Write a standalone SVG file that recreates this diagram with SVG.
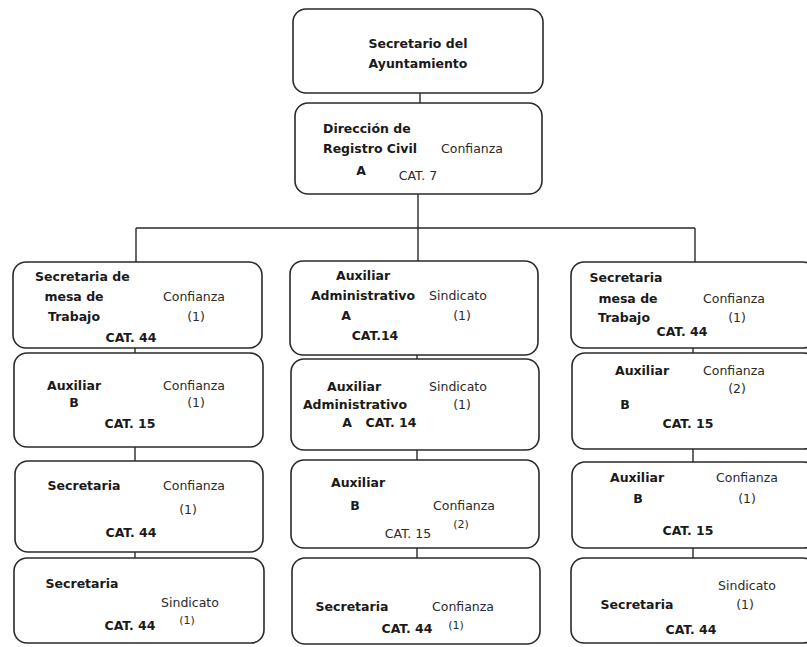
<svg xmlns="http://www.w3.org/2000/svg" width="807" height="647" viewBox="0 0 807 647">
<style>
.box{fill:#fff;stroke:#2a2a2a;stroke-width:1.6}
.ln{fill:none;stroke:#2a2a2a;stroke-width:1.4}
text{font-family:"DejaVu Sans","Liberation Sans",sans-serif;font-size:12.5px;fill:#2a2a2a;text-anchor:middle}
.b{font-weight:bold;fill:#1a1a1a}
.s{font-size:11px}
.l{text-anchor:start}
</style>
<rect width="807" height="647" fill="#fff"/>
<g id="connectors">
<path class="ln" d="M420 93V103M418 194V228M136 228H695M136 228V262M418 228V261M695 228V262"/>
<path class="ln" d="M135 348V353M135 447V461M135 552V558"/>
<path class="ln" d="M417 355V359M417 450V460M417 548V558"/>
<path class="ln" d="M693 348V353M693 449V462M693 548V558"/>
</g>
<g id="n_secretario">
<rect class="box" x="293" y="9" width="250" height="84" rx="13"/>
<text class="b" x="418" y="48">Secretario del</text>
<text class="b" x="418" y="68">Ayuntamiento</text>
</g>
<g id="n_direccion">
<rect class="box" x="295" y="103" width="247" height="91" rx="13"/>
<text class="b l" x="323" y="133">Dirección de</text>
<text class="b l" x="323" y="153">Registro Civil</text>
<text x="472" y="153">Confianza</text>
<text class="b" x="361" y="175">A</text>
<text x="418" y="180">CAT. 7</text>
</g>
<g id="n_L1">
<rect class="box" x="13" y="262" width="249" height="86" rx="13"/>
<text class="b l" x="35" y="281">Secretaria de</text>
<text class="b" x="74" y="301">mesa de</text>
<text class="b" x="74" y="321">Trabajo</text>
<text x="194" y="301">Confianza</text>
<text x="196" y="321">(1)</text>
<text class="b" x="131" y="342">CAT. 44</text>
</g>
<g id="n_L2">
<rect class="box" x="14" y="353" width="249" height="94" rx="13"/>
<text class="b" x="74" y="390">Auxiliar</text>
<text class="b" x="74" y="407">B</text>
<text x="194" y="390">Confianza</text>
<text x="196" y="407">(1)</text>
<text class="b" x="130" y="428">CAT. 15</text>
</g>
<g id="n_L3">
<rect class="box" x="15" y="461" width="248" height="91" rx="13"/>
<text class="b" x="84" y="490">Secretaria</text>
<text x="194" y="490">Confianza</text>
<text x="188" y="514">(1)</text>
<text class="b" x="131" y="537">CAT. 44</text>
</g>
<g id="n_L4">
<rect class="box" x="14" y="558" width="250" height="85" rx="13"/>
<text class="b" x="82" y="588">Secretaria</text>
<text x="190" y="607">Sindicato</text>
<text class="b" x="130" y="630">CAT. 44</text>
<text class="s" x="187" y="624">(1)</text>
</g>
<g id="n_M1">
<rect class="box" x="290" y="261" width="248" height="94" rx="13"/>
<text class="b" x="363" y="280">Auxiliar</text>
<text class="b" x="363" y="300">Administrativo</text>
<text x="458" y="300">Sindicato</text>
<text class="b" x="346" y="320">A</text>
<text x="462" y="320">(1)</text>
<text class="b" x="375" y="340">CAT.14</text>
</g>
<g id="n_M2">
<rect class="box" x="291" y="359" width="248" height="91" rx="13"/>
<text class="b" x="354" y="391">Auxiliar</text>
<text x="458" y="391">Sindicato</text>
<text class="b" x="355" y="409">Administrativo</text>
<text x="462" y="409">(1)</text>
<text class="b" x="347" y="427">A</text>
<text class="b" x="391" y="427">CAT. 14</text>
</g>
<g id="n_M3">
<rect class="box" x="291" y="460" width="248" height="88" rx="13"/>
<text class="b" x="358" y="487">Auxiliar</text>
<text class="b" x="355" y="510">B</text>
<text x="464" y="510">Confianza</text>
<text class="s" x="461" y="528">(2)</text>
<text x="408" y="538">CAT. 15</text>
</g>
<g id="n_M4">
<rect class="box" x="292" y="558" width="248" height="86" rx="13"/>
<text class="b" x="352" y="611">Secretaria</text>
<text x="463" y="611">Confianza</text>
<text class="b" x="407" y="633">CAT. 44</text>
<text class="s" x="456" y="629">(1)</text>
</g>
<g id="n_R1">
<rect class="box" x="571" y="262" width="245" height="86" rx="13"/>
<text class="b" x="626" y="282">Secretaria</text>
<text class="b" x="628" y="303">mesa de</text>
<text class="b" x="624" y="322">Trabajo</text>
<text x="734" y="303">Confianza</text>
<text x="737" y="322">(1)</text>
<text class="b" x="682" y="336">CAT. 44</text>
</g>
<g id="n_R2">
<rect class="box" x="572" y="353" width="245" height="96" rx="13"/>
<text class="b" x="642" y="375">Auxiliar</text>
<text x="734" y="375">Confianza</text>
<text x="737" y="393">(2)</text>
<text class="b" x="625" y="409">B</text>
<text class="b" x="688" y="428">CAT. 15</text>
</g>
<g id="n_R3">
<rect class="box" x="572" y="462" width="245" height="86" rx="13"/>
<text class="b" x="637" y="482">Auxiliar</text>
<text x="747" y="482">Confianza</text>
<text class="b" x="638" y="503">B</text>
<text x="747" y="503">(1)</text>
<text class="b" x="688" y="535">CAT. 15</text>
</g>
<g id="n_R4">
<rect class="box" x="571" y="558" width="245" height="85" rx="13"/>
<text x="747" y="590">Sindicato</text>
<text class="b" x="637" y="609">Secretaria</text>
<text x="745" y="609">(1)</text>
<text class="b" x="691" y="634">CAT. 44</text>
</g>
</svg>
